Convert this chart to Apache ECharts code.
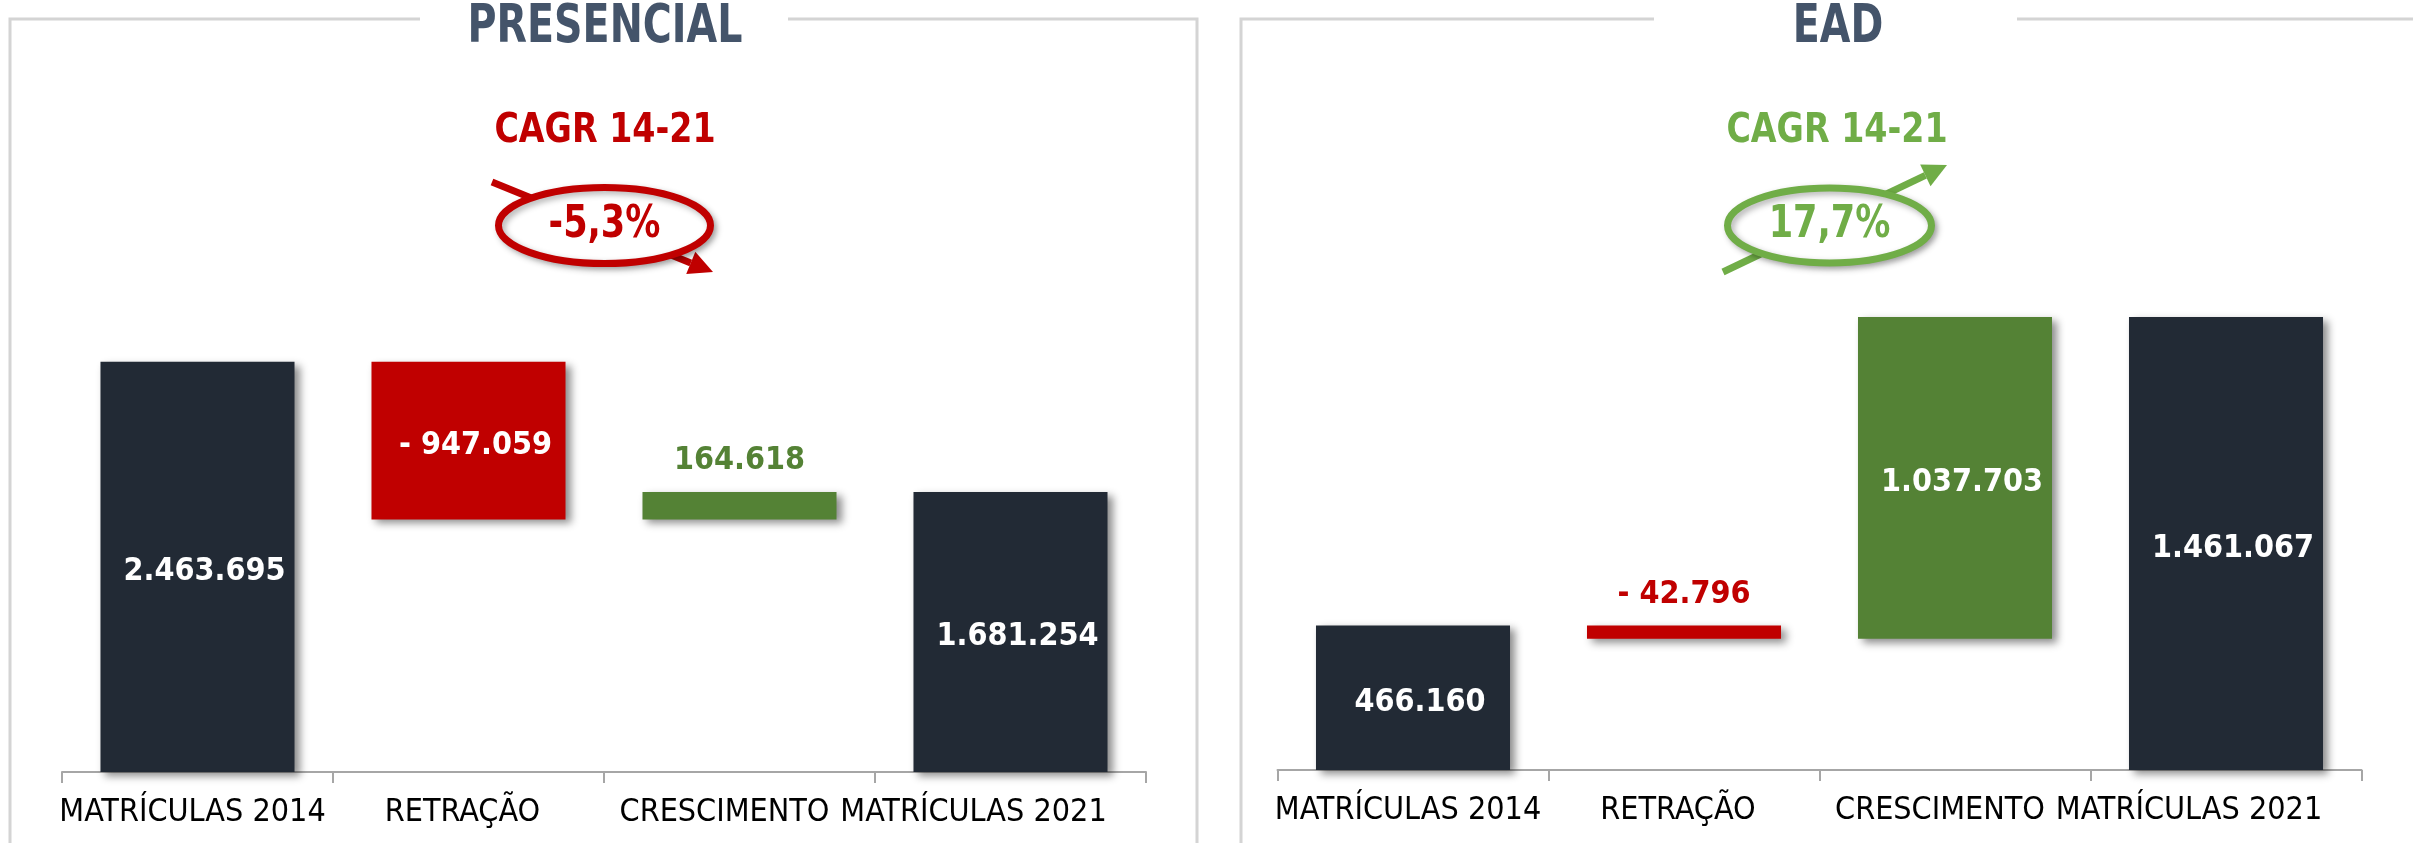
<!DOCTYPE html>
<html>
<head>
<meta charset="utf-8">
<script src="https://cdn.jsdelivr.net/npm/echarts@6/dist/echarts.min.js"></script>
<style>
  html, body { margin: 0; padding: 0; background: #fff; }
  #main { width: 2413px; height: 843px; }
</style>
</head>
<body>
<div id="main"></div>
<script>
const categorias = ["MATRÍCULAS 2014", "RETRAÇÃO", "CRESCIMENTO", "MATRÍCULAS 2021"];
const tipos = ["total", "delta", "delta", "total"];
const presencialValores = [2463695, -947059, 164618, 1681254];
const eadValores = [466160, -42796, 1037703, 1461067];

const FONT = '"DejaVu Sans Condensed", "DejaVu Sans", sans-serif';
const corTotal = "#222A35";
const corQueda = "#C00000";
const corAlta = "#548235";
// no original os rotulos do eixo ficam um pouco puxados para a esquerda
const recuoRotulo = [10, 12, 30, 74];

function formatar(v) {
	const s = Math.abs(v).toString().replace(/\B(?=(\d{3})+(?!\d))/g, ".");
	return v < 0 ? "- " + s : s;
}

// monta base invisivel + barra visivel do waterfall
function waterfall(valores, maxEixo) {
	let acumulado = 0;
	const base = [];
	const barras = [];
	valores.forEach((v, i) => {
		let b, h;
		if (tipos[i] === "total") {
			b = 0;
			h = v;
			acumulado = v;
		} else if (v < 0) {
			acumulado += v;
			b = acumulado;
			h = -v;
		} else {
			b = acumulado;
			acumulado += v;
			h = v;
		}
		const cor = tipos[i] === "total" ? corTotal : v < 0 ? corQueda : corAlta;
		const pequena = h < maxEixo * 0.1;
		base.push(b);
		barras.push({
			value: h,
			itemStyle: { color: cor },
			label: pequena
				? { position: "top", distance: 15, color: cor, offset: [0, 0] }
				: { position: "inside", color: "#fff", offset: [7, 5] },
			raw: v,
		});
	});
	return { base, barras };
}

const maxPresencial = 3000000;
const maxEad = 2000000;
const wfP = waterfall(presencialValores, maxPresencial);
const wfE = waterfall(eadValores, maxEad);

function eixoX(idx) {
	return {
		type: "category",
		gridIndex: idx,
		data: categorias.map((c, i) => ({ value: c, textStyle: { padding: [0, recuoRotulo[i], 0, 0] } })),
		axisLine: { lineStyle: { color: "#A6A6A6", width: 2 } },
		axisTick: { show: true, length: 11, lineStyle: { color: "#A6A6A6", width: 2 } },
		axisLabel: {
			interval: 0,
			color: "#000",
			fontFamily: FONT,
			fontSize: 32,
			margin: 25,
		},
	};
}

function eixoY(idx, max) {
	return { type: "value", gridIndex: idx, min: 0, max: max, show: false, splitLine: { show: false } };
}

function series(idx, wf) {
	return [
		{
			type: "bar",
			stack: "wf" + idx,
			xAxisIndex: idx,
			yAxisIndex: idx,
			barWidth: "71.6%",
			itemStyle: { color: "transparent" },
			emphasis: { disabled: true },
			silent: true,
			data: wf.base,
		},
		{
			type: "bar",
			stack: "wf" + idx,
			xAxisIndex: idx,
			yAxisIndex: idx,
			barWidth: "71.6%",
			itemStyle: {
				shadowBlur: 8,
				shadowOffsetX: 5,
				shadowOffsetY: 4,
				shadowColor: "rgba(0,0,0,0.45)",
			},
			label: {
				show: true,
				fontFamily: FONT,
				fontWeight: "bold",
				fontSize: 32,
				formatter: (p) => formatar(p.data.raw),
			},
			data: wf.barras,
		},
	];
}

function seta(x1, y1, x2, y2, cor, comp, larg) {
	const dx = x2 - x1, dy = y2 - y1;
	const len = Math.sqrt(dx * dx + dy * dy);
	const ux = dx / len, uy = dy / len;
	const bx = x2 - ux * comp, by = y2 - uy * comp;
	const nx = -uy, ny = ux;
	return [
		{ type: "line", shape: { x1: x1, y1: y1, x2: bx, y2: by }, style: { stroke: cor, lineWidth: 7 }, z: 10 },
		{
			type: "polygon",
			shape: { points: [[x2, y2], [bx + nx * larg, by + ny * larg], [bx - nx * larg, by - ny * larg]] },
			style: { fill: cor },
			z: 10,
		},
	];
}

function cagr(cx, cy, rx, ry, tx, cor, texto, setaPts) {
	return [
		{
			type: "text",
			style: { text: "CAGR 14-21", x: tx, y: 131, align: "center", verticalAlign: "middle", font: "bold 37px " + FONT, fill: cor },
			scaleY: 1.12, originX: tx, originY: 131,
			z: 10,
		},
		...seta(...setaPts, cor, 24, 12),
		{
			type: "ellipse",
			shape: { cx: cx, cy: cy, rx: rx, ry: ry },
			style: { fill: "#fff", stroke: cor, lineWidth: 7, shadowBlur: 6, shadowOffsetX: 3, shadowOffsetY: 3, shadowColor: "rgba(0,0,0,0.3)" },
			z: 11,
		},
		{
			type: "text",
			style: { text: texto, x: cx, y: cy, align: "center", verticalAlign: "middle", font: "bold 39px " + FONT, fill: cor },
			scaleY: 1.12, originX: cx, originY: cy,
			z: 12,
		},
	];
}

function titulo(texto, x) {
	return {
		type: "text",
		style: { text: texto, x: x, y: 28, align: "center", verticalAlign: "middle", font: "bold 44px " + FONT, fill: "#44546A" },
		scaleY: 1.22, originX: x, originY: 28,
		z: 2,
	};
}

const graficos = [
	{ type: "rect", shape: { x: 10, y: 19, width: 1187, height: 900 }, style: { fill: "none", stroke: "#D4D4D4", lineWidth: 3 }, z: 0 },
	{ type: "rect", shape: { x: 1241, y: 19, width: 1300, height: 900 }, style: { fill: "none", stroke: "#D4D4D4", lineWidth: 3 }, z: 0 },
	{ type: "rect", shape: { x: 420, y: 5, width: 368, height: 30 }, style: { fill: "#fff" }, z: 1 },
	{ type: "rect", shape: { x: 1654, y: 5, width: 363, height: 30 }, style: { fill: "#fff" }, z: 1 },
	titulo("PRESENCIAL", 605),
	titulo("EAD", 1838),
	...cagr(604.5, 225.5, 106, 38, 605, corQueda, "-5,3%", [492, 182, 713, 272]),
	...cagr(1829.5, 225.5, 102, 37.5, 1837, "#70AD47", "17,7%", [1723, 272, 1947, 165]),
];

const myChart = echarts.init(document.getElementById("main"));

myChart.setOption({
	animation: false,
	grid: [
		{ left: 62, width: 1084, top: 772 - maxPresencial * 1.665e-4, bottom: 843 - 772 },
		{ left: 1277.5, width: 1084, top: 770 - maxEad * 3.1e-4, bottom: 843 - 770 },
	],
	xAxis: [eixoX(0), eixoX(1)],
	yAxis: [eixoY(0, maxPresencial), eixoY(1, maxEad)],
	series: [...series(0, wfP), ...series(1, wfE)],
	graphic: graficos,
});
</script>
</body>
</html>
